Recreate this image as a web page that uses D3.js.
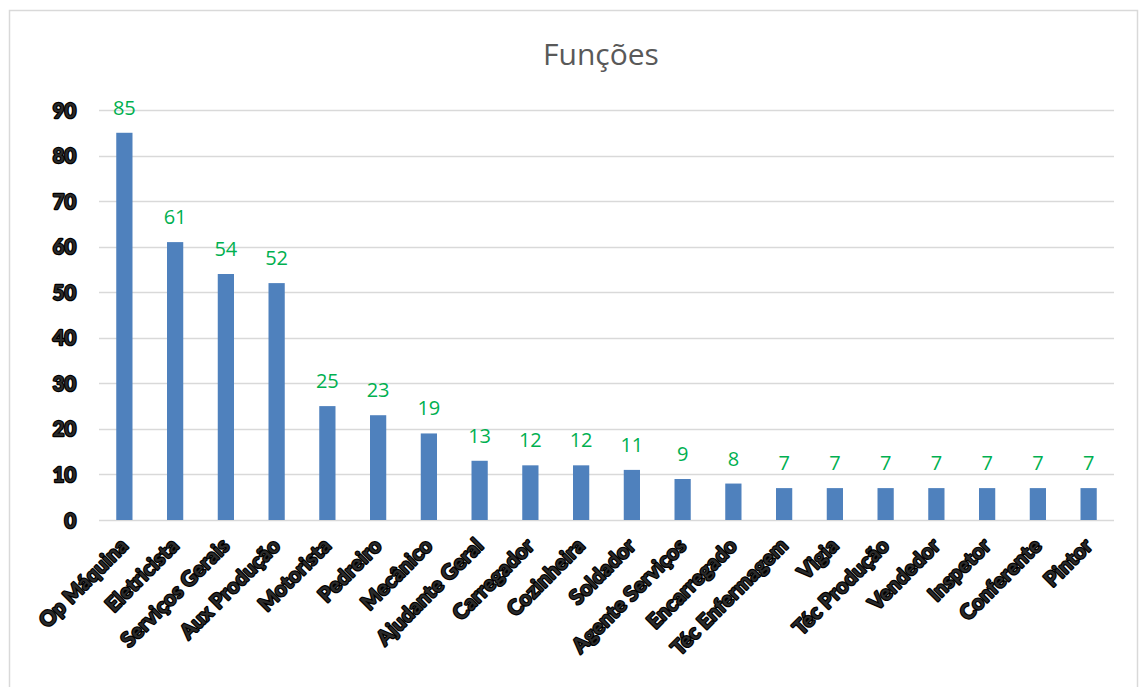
<!DOCTYPE html>
<html><head><meta charset="utf-8">
<script src="https://cdn.jsdelivr.net/npm/d3@7"></script>
<style>body{margin:0;background:#fff}svg{display:block}</style>
</head><body>
<svg id="c" width="1140" height="687"></svg>
<script>
const categories = ["Op Máquina","Eletricista","Serviços Gerais","Aux Produção","Motorista","Pedreiro","Mecânico","Ajudante Geral","Carregador","Cozinheira","Soldador","Agente Serviços","Encarregado","Téc Enfermagem","Vigia","Téc Produção","Vendedor","Inspetor","Conferente","Pintor"];
const values = [85,61,54,52,25,23,19,13,12,12,11,9,8,7,7,7,7,7,7,7];
const yTicks = [0,10,20,30,40,50,60,70,80,90];
const title = "Funções";

const svg = d3.select("#c");
svg.append("rect").attr("x",9.5).attr("y",10.5).attr("width",1128).attr("height",690)
  .attr("fill","#fff").attr("stroke","#d9d9d9").attr("stroke-width",1.5);

const pLeft=99, pRight=1114, pTop=110, pBottom=520;
const x = d3.scaleBand().domain(categories).range([pLeft,pRight]).paddingInner(0.68).paddingOuter(0.34);
const y = d3.scaleLinear().domain([0,90]).range([pBottom,pTop]);

svg.append("text").attr("x",601).attr("y",65).attr("text-anchor","middle")
  .attr("font-family","'Open Sans', sans-serif").attr("font-size",30).attr("fill","#595959").text(title);

// grid
svg.append("g").selectAll("line").data(yTicks).join("line")
  .attr("x1",pLeft).attr("x2",pRight).attr("y1",d=>Math.round(y(d))+0.5).attr("y2",d=>Math.round(y(d))+0.5)
  .attr("stroke","#d9d9d9").attr("stroke-width",1.3);

const yAxis = svg.append("g").attr("transform",`translate(${pLeft},0)`)
  .call(d3.axisLeft(y).tickValues(yTicks).tickSize(0).tickPadding(23));
yAxis.select(".domain").remove();
yAxis.selectAll("text").attr("font-family","Lato, sans-serif").attr("font-weight","700").attr("font-size",20)
  .attr("fill","#2a2a2a").attr("stroke","#000").attr("stroke-width",2.4).attr("paint-order","stroke")
  .attr("stroke-linejoin","round").attr("dy","0.35em");

// bars
svg.append("g").selectAll("rect").data(values).join("rect")
  .attr("x",(d,i)=>x(categories[i])).attr("width",x.bandwidth())
  .attr("y",d=>y(d)).attr("height",d=>y(0)-y(d)).attr("fill","#4f81bd");

// value labels
svg.append("g").selectAll("text").data(values).join("text")
  .attr("x",(d,i)=>x(categories[i])+x.bandwidth()/2).attr("y",d=>y(d)-18)
  .attr("text-anchor","middle").attr("font-family","'Open Sans', sans-serif").attr("font-size",20)
  .attr("fill","#00b050").text(d=>d);

// x axis
const xAxis = svg.append("g").attr("transform",`translate(0,${pBottom})`)
  .call(d3.axisBottom(x).tickSize(0).tickPadding(0));
xAxis.select(".domain").remove();
xAxis.selectAll("text")
  .attr("font-family","Lato, sans-serif").attr("font-weight","700").attr("font-size",20.5)
  .attr("letter-spacing","0.3px")
  .attr("fill","#2a2a2a").attr("stroke","#000").attr("stroke-width",2.4).attr("paint-order","stroke")
  .attr("stroke-linejoin","round")
  .attr("text-anchor","end").attr("dy",null).attr("y",0)
  .attr("transform","translate(5,27) rotate(-45)");
</script>
</body></html>
